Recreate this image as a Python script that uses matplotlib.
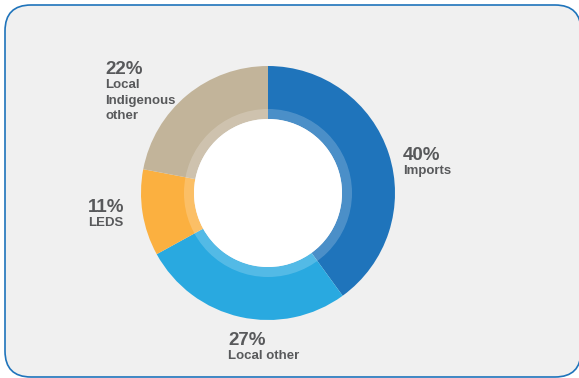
import matplotlib.pyplot as plt
from matplotlib.patches import FancyBboxPatch, Circle

labels = ['Imports', 'Local other', 'LEDS', 'Local\nIndigenous\nother']
shares = [40, 27, 11, 22]
colors = ['#1f74bb', '#29a9e0', '#fbb040', '#c2b49a']

W, H = 579, 378
fig = plt.figure(figsize=(W / 100, H / 100), dpi=100)
ax = fig.add_axes([0, 0, 1, 1])
fig.patch.set_facecolor('white')

# rounded panel
panel = FancyBboxPatch((5, H - 377), 576, 372,
                       boxstyle="round,pad=0,rounding_size=26",
                       fc='#f0f0f0', ec='#1f74bb', lw=1.2)
ax.add_patch(panel)

cx, cy = 268, H - 193
R = 127
ax.pie(shares, colors=colors, startangle=90, counterclock=False,
       center=(cx, cy), radius=R, frame=True,
       wedgeprops=dict(width=R - 74, linewidth=0))
ax.add_patch(Circle((cx, cy), 84, fc='white', alpha=0.2, lw=0))
ax.add_patch(Circle((cx, cy), 74, fc='white', lw=0))

ax.set_xlim(0, W)
ax.set_ylim(0, H)
ax.set_aspect('equal')
ax.axis('off')

txt = '#58595b'
# label anchor: x, baseline of percent (pixels from top)
pos = [(403, 160), (228, 345), (88, 212), (105, 74)]
for (x, y), lab, s in zip(pos, labels, shares):
    ax.text(x, H - y, f'{s}%', fontsize=13.5, fontweight='bold',
            color=txt, family='Liberation Sans', va='baseline', ha='left')
    ax.text(x, H - y - 5, lab, fontsize=9.5, fontweight='bold',
            color=txt, family='Liberation Sans', va='top', ha='left',
            linespacing=1.4)

fig.savefig('out.png', dpi=100, facecolor='white')
